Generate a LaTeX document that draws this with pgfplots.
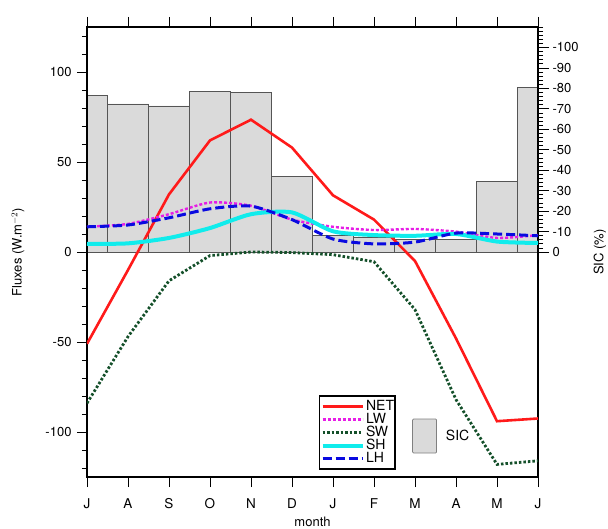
\documentclass[border=0pt]{standalone}
\usepackage{pgfplots}
\pgfplotsset{compat=1.18}
\usepackage{fontspec}
\setmainfont{TeX Gyre Heros}
\definecolor{netc}{HTML}{FF1A1A}
\definecolor{lwc}{HTML}{E61EE6}
\definecolor{swc}{HTML}{14502A}
\definecolor{shc}{HTML}{10ECEC}
\definecolor{lhc}{HTML}{0A0AE0}
\definecolor{barf}{HTML}{DADADA}
\definecolor{bard}{HTML}{555555}
\begin{document}
\begin{tikzpicture}
\useasboundingbox (-87bp,-52bp) rectangle (521bp,477bp);
% SIC bars on right axis
\begin{axis}[
  scale only axis, width=451bp, height=450bp,
  xmin=0, xmax=11, ymin=-110, ymax=110,
  axis x line=none, axis y line*=right,
  ytick={0,10,...,100},
  yticklabels={0,-10,-20,-30,-40,-50,-60,-70,-80,-90,-100},
  minor ytick={2,4,...,110},
  tick align=outside,
  major tick length=11bp, minor tick length=5bp,
  every tick/.style={black, line width=0.7bp},
  axis line style={line width=1.1bp},
  /pgf/number format/assume math mode=true,
  ticklabel style={font=\fontsize{13bp}{15bp}\selectfont},
  ylabel={SIC (\%)},
  ylabel style={at={(axis description cs:1.1375,0.5)}, anchor=center, font=\fontsize{13bp}{15bp}\selectfont},
  legend style={at={(0.7206,0.0911)}, anchor=west, draw=none, fill=none, inner sep=0pt,
    column sep=7bp, font=\fontsize{14bp}{16bp}\selectfont},
]
\addplot[ybar, bar width=1, bar shift=0, fill=barf, draw=bard, line width=0.8bp,
  legend image code/.code={\draw[fill=barf, draw=gray, line width=0.8bp, rounded corners=1bp] (0bp,-17bp) rectangle (24bp,17bp);}]
  coordinates {(0,76.5) (1,72.4) (2,71.4) (3,78.3) (4,77.8) (5,36.9) (6,8) (7,7) (8,6) (9,6) (10,34.5) (11,80.5)};
\addlegendentry{SIC}
\end{axis}
% Fluxes
\begin{axis}[
  scale only axis, width=451bp, height=450bp,
  xmin=0, xmax=11, ymin=-125, ymax=125,
  xtick={0,...,11},
  xticklabels={J,A,S,O,N,D,J,F,M,A,M,J},
  ytick={-100,-50,0,50,100},
  minor ytick={-120,-110,...,120},
  ytick pos=left, xtick pos=both,
  tick align=outside,
  major tick length=10bp, minor tick length=5bp,
  every tick/.style={black, line width=0.9bp},
  axis line style={line width=1.1bp},
  /pgf/number format/assume math mode=true,
  ticklabel style={font=\fontsize{13bp}{15bp}\selectfont},
  xticklabel style={yshift=-8bp, font=\fontsize{13.5bp}{15bp}\selectfont},
  yticklabel style={xshift=-2bp},
  xlabel={month},
  xlabel style={at={(axis description cs:0.5,-0.1)}, anchor=center, font=\fontsize{13bp}{15bp}\selectfont},
  ylabel={Fluxes (W.m$^{-2}$)},
  ylabel style={at={(axis description cs:-0.153,0.5)}, anchor=center, font=\fontsize{13bp}{15bp}\selectfont},
  legend style={at={(0.514,0.016)}, anchor=south west, draw=black, line width=1.5bp,
    inner xsep=1bp, inner ysep=4bp, row sep=0pt, column sep=1.5bp,
    nodes={inner sep=0pt, text height=10bp, text depth=3bp},
    font=\fontsize{14bp}{16bp}\selectfont},
  legend cell align=left,
  legend image code/.code={\draw[#1] (0bp,0bp) -- (40bp,0bp);},
]
\addplot[netc, line width=2.6bp] coordinates {(0,-51) (1,-10) (2,32) (3,62) (4,73.5) (5,58) (6,31.5) (7,18) (8,-5) (9,-48) (10,-94) (11,-92.5)};
\addlegendentry{NET}
\addplot[lwc, line width=2.4bp, dash pattern=on 3bp off 2bp, smooth, tension=0.4] coordinates {(0,14) (1,15.6) (2,21) (3,27.5) (4,25.7) (5,18) (6,14) (7,12.2) (8,12.8) (9,11.3) (10,7.8) (11,9.4)};
\addlegendentry{LW}
\addplot[swc, line width=2.8bp, dash pattern=on 2.5bp off 2bp] coordinates {(0,-84) (1,-47) (2,-16) (3,-2) (4,0) (5,-0.3) (6,-1.5) (7,-5.4) (8,-32) (9,-82) (10,-118) (11,-116)};
\addlegendentry{SW}
\addplot[shc, line width=4bp, smooth, tension=0.4] coordinates {(0,4.5) (1,4.8) (2,7.8) (3,13.3) (4,21) (5,22) (6,11.5) (7,9.4) (8,9) (9,10) (10,5.8) (11,5)};
\addlegendentry{SH}
\addplot[lhc, line width=3bp, dash pattern=on 9bp off 4bp, smooth, tension=0.4] coordinates {(0,14) (1,15) (2,19) (3,24) (4,25.5) (5,18) (6,7.2) (7,4.5) (8,5.5) (9,10.5) (10,10) (11,9)};
\addlegendentry{LH}
\end{axis}
\end{tikzpicture}
\end{document}
